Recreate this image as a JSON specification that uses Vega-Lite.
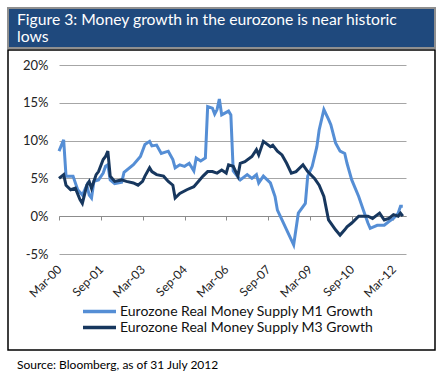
{
"$schema": "https://vega.github.io/schema/vega-lite/v6.json",
"padding": {"left": 7, "top": 7, "right": 8, "bottom": 0},
"background": "white",
"config": {"concat": {"spacing": 0}, "font": "Lato"},
"datasets": {"money": [
{"d":"2000-03-01","s":"Eurozone Real Money Supply M1 Growth","v":8.6},
{"d":"2000-05-01","s":"Eurozone Real Money Supply M1 Growth","v":10.1},
{"d":"2000-06-01","s":"Eurozone Real Money Supply M1 Growth","v":5.3},
{"d":"2000-09-01","s":"Eurozone Real Money Supply M1 Growth","v":5.3},
{"d":"2000-11-01","s":"Eurozone Real Money Supply M1 Growth","v":3.5},
{"d":"2001-01-01","s":"Eurozone Real Money Supply M1 Growth","v":2.8},
{"d":"2001-03-01","s":"Eurozone Real Money Supply M1 Growth","v":4.1},
{"d":"2001-04-01","s":"Eurozone Real Money Supply M1 Growth","v":2.8},
{"d":"2001-05-01","s":"Eurozone Real Money Supply M1 Growth","v":2.4},
{"d":"2001-06-01","s":"Eurozone Real Money Supply M1 Growth","v":4.6},
{"d":"2001-08-01","s":"Eurozone Real Money Supply M1 Growth","v":4.8},
{"d":"2001-10-01","s":"Eurozone Real Money Supply M1 Growth","v":5.7},
{"d":"2001-11-01","s":"Eurozone Real Money Supply M1 Growth","v":6.6},
{"d":"2001-12-01","s":"Eurozone Real Money Supply M1 Growth","v":6.8},
{"d":"2002-01-01","s":"Eurozone Real Money Supply M1 Growth","v":4.8},
{"d":"2002-03-01","s":"Eurozone Real Money Supply M1 Growth","v":4.3},
{"d":"2002-06-01","s":"Eurozone Real Money Supply M1 Growth","v":4.5},
{"d":"2002-07-01","s":"Eurozone Real Money Supply M1 Growth","v":5.8},
{"d":"2002-11-01","s":"Eurozone Real Money Supply M1 Growth","v":6.8},
{"d":"2003-02-01","s":"Eurozone Real Money Supply M1 Growth","v":7.9},
{"d":"2003-04-01","s":"Eurozone Real Money Supply M1 Growth","v":9.5},
{"d":"2003-06-01","s":"Eurozone Real Money Supply M1 Growth","v":9.9},
{"d":"2003-07-01","s":"Eurozone Real Money Supply M1 Growth","v":9.3},
{"d":"2003-09-01","s":"Eurozone Real Money Supply M1 Growth","v":9.4},
{"d":"2003-11-01","s":"Eurozone Real Money Supply M1 Growth","v":8.3},
{"d":"2004-02-01","s":"Eurozone Real Money Supply M1 Growth","v":8.6},
{"d":"2004-04-01","s":"Eurozone Real Money Supply M1 Growth","v":7.5},
{"d":"2004-05-01","s":"Eurozone Real Money Supply M1 Growth","v":6.4},
{"d":"2004-07-01","s":"Eurozone Real Money Supply M1 Growth","v":6.8},
{"d":"2004-09-01","s":"Eurozone Real Money Supply M1 Growth","v":6.6},
{"d":"2004-11-01","s":"Eurozone Real Money Supply M1 Growth","v":7.0},
{"d":"2005-01-01","s":"Eurozone Real Money Supply M1 Growth","v":6.0},
{"d":"2005-02-01","s":"Eurozone Real Money Supply M1 Growth","v":7.7},
{"d":"2005-04-01","s":"Eurozone Real Money Supply M1 Growth","v":7.3},
{"d":"2005-06-01","s":"Eurozone Real Money Supply M1 Growth","v":7.7},
{"d":"2005-07-01","s":"Eurozone Real Money Supply M1 Growth","v":14.5},
{"d":"2005-09-01","s":"Eurozone Real Money Supply M1 Growth","v":14.3},
{"d":"2005-10-01","s":"Eurozone Real Money Supply M1 Growth","v":13.5},
{"d":"2005-11-01","s":"Eurozone Real Money Supply M1 Growth","v":14.1},
{"d":"2005-12-01","s":"Eurozone Real Money Supply M1 Growth","v":15.5},
{"d":"2006-01-01","s":"Eurozone Real Money Supply M1 Growth","v":13.4},
{"d":"2006-04-01","s":"Eurozone Real Money Supply M1 Growth","v":13.9},
{"d":"2006-05-01","s":"Eurozone Real Money Supply M1 Growth","v":13.4},
{"d":"2006-06-01","s":"Eurozone Real Money Supply M1 Growth","v":6.0},
{"d":"2006-09-01","s":"Eurozone Real Money Supply M1 Growth","v":4.8},
{"d":"2006-12-01","s":"Eurozone Real Money Supply M1 Growth","v":5.5},
{"d":"2007-02-01","s":"Eurozone Real Money Supply M1 Growth","v":5.0},
{"d":"2007-04-01","s":"Eurozone Real Money Supply M1 Growth","v":5.5},
{"d":"2007-05-01","s":"Eurozone Real Money Supply M1 Growth","v":4.4},
{"d":"2007-07-01","s":"Eurozone Real Money Supply M1 Growth","v":5.3},
{"d":"2007-10-01","s":"Eurozone Real Money Supply M1 Growth","v":4.4},
{"d":"2007-12-01","s":"Eurozone Real Money Supply M1 Growth","v":2.6},
{"d":"2008-01-01","s":"Eurozone Real Money Supply M1 Growth","v":0.8},
{"d":"2008-03-01","s":"Eurozone Real Money Supply M1 Growth","v":-0.5},
{"d":"2008-05-01","s":"Eurozone Real Money Supply M1 Growth","v":-1.8},
{"d":"2008-08-01","s":"Eurozone Real Money Supply M1 Growth","v":-3.8},
{"d":"2008-10-01","s":"Eurozone Real Money Supply M1 Growth","v":0.4},
{"d":"2009-01-01","s":"Eurozone Real Money Supply M1 Growth","v":1.7},
{"d":"2009-02-01","s":"Eurozone Real Money Supply M1 Growth","v":5.3},
{"d":"2009-04-01","s":"Eurozone Real Money Supply M1 Growth","v":6.6},
{"d":"2009-06-01","s":"Eurozone Real Money Supply M1 Growth","v":9.2},
{"d":"2009-07-01","s":"Eurozone Real Money Supply M1 Growth","v":11.4},
{"d":"2009-09-01","s":"Eurozone Real Money Supply M1 Growth","v":14.1},
{"d":"2009-11-01","s":"Eurozone Real Money Supply M1 Growth","v":12.8},
{"d":"2009-12-01","s":"Eurozone Real Money Supply M1 Growth","v":12.1},
{"d":"2010-02-01","s":"Eurozone Real Money Supply M1 Growth","v":9.7},
{"d":"2010-04-01","s":"Eurozone Real Money Supply M1 Growth","v":8.6},
{"d":"2010-06-01","s":"Eurozone Real Money Supply M1 Growth","v":8.3},
{"d":"2010-07-01","s":"Eurozone Real Money Supply M1 Growth","v":7.0},
{"d":"2010-09-01","s":"Eurozone Real Money Supply M1 Growth","v":4.8},
{"d":"2010-12-01","s":"Eurozone Real Money Supply M1 Growth","v":2.6},
{"d":"2011-02-01","s":"Eurozone Real Money Supply M1 Growth","v":0.8},
{"d":"2011-04-01","s":"Eurozone Real Money Supply M1 Growth","v":-0.9},
{"d":"2011-05-01","s":"Eurozone Real Money Supply M1 Growth","v":-1.6},
{"d":"2011-08-01","s":"Eurozone Real Money Supply M1 Growth","v":-1.2},
{"d":"2011-11-01","s":"Eurozone Real Money Supply M1 Growth","v":-1.2},
{"d":"2012-01-01","s":"Eurozone Real Money Supply M1 Growth","v":-0.7},
{"d":"2012-03-01","s":"Eurozone Real Money Supply M1 Growth","v":-0.3},
{"d":"2012-05-01","s":"Eurozone Real Money Supply M1 Growth","v":0.4},
{"d":"2012-06-01","s":"Eurozone Real Money Supply M1 Growth","v":1.3},
{"d":"2012-07-01","s":"Eurozone Real Money Supply M1 Growth","v":1.3},
{"d":"2000-03-01","s":"Eurozone Real Money Supply M3 Growth","v":5.0},
{"d":"2000-05-01","s":"Eurozone Real Money Supply M3 Growth","v":5.5},
{"d":"2000-06-01","s":"Eurozone Real Money Supply M3 Growth","v":4.1},
{"d":"2000-08-01","s":"Eurozone Real Money Supply M3 Growth","v":3.5},
{"d":"2000-10-01","s":"Eurozone Real Money Supply M3 Growth","v":3.7},
{"d":"2000-12-01","s":"Eurozone Real Money Supply M3 Growth","v":2.2},
{"d":"2001-01-01","s":"Eurozone Real Money Supply M3 Growth","v":1.7},
{"d":"2001-03-01","s":"Eurozone Real Money Supply M3 Growth","v":4.1},
{"d":"2001-04-01","s":"Eurozone Real Money Supply M3 Growth","v":4.6},
{"d":"2001-05-01","s":"Eurozone Real Money Supply M3 Growth","v":3.7},
{"d":"2001-07-01","s":"Eurozone Real Money Supply M3 Growth","v":5.5},
{"d":"2001-08-01","s":"Eurozone Real Money Supply M3 Growth","v":5.9},
{"d":"2001-10-01","s":"Eurozone Real Money Supply M3 Growth","v":7.5},
{"d":"2001-11-01","s":"Eurozone Real Money Supply M3 Growth","v":7.9},
{"d":"2001-12-01","s":"Eurozone Real Money Supply M3 Growth","v":8.6},
{"d":"2002-01-01","s":"Eurozone Real Money Supply M3 Growth","v":5.3},
{"d":"2002-03-01","s":"Eurozone Real Money Supply M3 Growth","v":4.6},
{"d":"2002-06-01","s":"Eurozone Real Money Supply M3 Growth","v":4.8},
{"d":"2002-08-01","s":"Eurozone Real Money Supply M3 Growth","v":4.6},
{"d":"2002-11-01","s":"Eurozone Real Money Supply M3 Growth","v":4.4},
{"d":"2003-01-01","s":"Eurozone Real Money Supply M3 Growth","v":4.1},
{"d":"2003-03-01","s":"Eurozone Real Money Supply M3 Growth","v":4.6},
{"d":"2003-04-01","s":"Eurozone Real Money Supply M3 Growth","v":5.3},
{"d":"2003-06-01","s":"Eurozone Real Money Supply M3 Growth","v":6.4},
{"d":"2003-07-01","s":"Eurozone Real Money Supply M3 Growth","v":5.9},
{"d":"2003-09-01","s":"Eurozone Real Money Supply M3 Growth","v":5.5},
{"d":"2003-12-01","s":"Eurozone Real Money Supply M3 Growth","v":5.3},
{"d":"2004-02-01","s":"Eurozone Real Money Supply M3 Growth","v":4.6},
{"d":"2004-04-01","s":"Eurozone Real Money Supply M3 Growth","v":4.1},
{"d":"2004-05-01","s":"Eurozone Real Money Supply M3 Growth","v":2.4},
{"d":"2004-07-01","s":"Eurozone Real Money Supply M3 Growth","v":3.0},
{"d":"2004-10-01","s":"Eurozone Real Money Supply M3 Growth","v":3.5},
{"d":"2005-01-01","s":"Eurozone Real Money Supply M3 Growth","v":3.9},
{"d":"2005-03-01","s":"Eurozone Real Money Supply M3 Growth","v":4.6},
{"d":"2005-05-01","s":"Eurozone Real Money Supply M3 Growth","v":5.3},
{"d":"2005-07-01","s":"Eurozone Real Money Supply M3 Growth","v":5.9},
{"d":"2005-09-01","s":"Eurozone Real Money Supply M3 Growth","v":5.9},
{"d":"2005-11-01","s":"Eurozone Real Money Supply M3 Growth","v":5.7},
{"d":"2006-01-01","s":"Eurozone Real Money Supply M3 Growth","v":6.1},
{"d":"2006-03-01","s":"Eurozone Real Money Supply M3 Growth","v":5.7},
{"d":"2006-04-01","s":"Eurozone Real Money Supply M3 Growth","v":6.8},
{"d":"2006-06-01","s":"Eurozone Real Money Supply M3 Growth","v":6.6},
{"d":"2006-08-01","s":"Eurozone Real Money Supply M3 Growth","v":5.3},
{"d":"2006-09-01","s":"Eurozone Real Money Supply M3 Growth","v":7.0},
{"d":"2006-11-01","s":"Eurozone Real Money Supply M3 Growth","v":7.2},
{"d":"2007-02-01","s":"Eurozone Real Money Supply M3 Growth","v":7.9},
{"d":"2007-04-01","s":"Eurozone Real Money Supply M3 Growth","v":8.8},
{"d":"2007-05-01","s":"Eurozone Real Money Supply M3 Growth","v":8.1},
{"d":"2007-07-01","s":"Eurozone Real Money Supply M3 Growth","v":9.9},
{"d":"2007-10-01","s":"Eurozone Real Money Supply M3 Growth","v":9.2},
{"d":"2007-11-01","s":"Eurozone Real Money Supply M3 Growth","v":9.4},
{"d":"2008-01-01","s":"Eurozone Real Money Supply M3 Growth","v":8.6},
{"d":"2008-03-01","s":"Eurozone Real Money Supply M3 Growth","v":8.1},
{"d":"2008-05-01","s":"Eurozone Real Money Supply M3 Growth","v":7.0},
{"d":"2008-07-01","s":"Eurozone Real Money Supply M3 Growth","v":5.7},
{"d":"2008-09-01","s":"Eurozone Real Money Supply M3 Growth","v":5.9},
{"d":"2008-12-01","s":"Eurozone Real Money Supply M3 Growth","v":6.8},
{"d":"2009-02-01","s":"Eurozone Real Money Supply M3 Growth","v":5.9},
{"d":"2009-05-01","s":"Eurozone Real Money Supply M3 Growth","v":5.0},
{"d":"2009-07-01","s":"Eurozone Real Money Supply M3 Growth","v":4.1},
{"d":"2009-09-01","s":"Eurozone Real Money Supply M3 Growth","v":2.6},
{"d":"2009-11-01","s":"Eurozone Real Money Supply M3 Growth","v":-0.5},
{"d":"2010-02-01","s":"Eurozone Real Money Supply M3 Growth","v":-1.8},
{"d":"2010-04-01","s":"Eurozone Real Money Supply M3 Growth","v":-2.5},
{"d":"2010-06-01","s":"Eurozone Real Money Supply M3 Growth","v":-1.8},
{"d":"2010-07-01","s":"Eurozone Real Money Supply M3 Growth","v":-1.4},
{"d":"2010-09-01","s":"Eurozone Real Money Supply M3 Growth","v":-0.9},
{"d":"2010-12-01","s":"Eurozone Real Money Supply M3 Growth","v":0.0},
{"d":"2011-02-01","s":"Eurozone Real Money Supply M3 Growth","v":0.0},
{"d":"2011-04-01","s":"Eurozone Real Money Supply M3 Growth","v":0.0},
{"d":"2011-06-01","s":"Eurozone Real Money Supply M3 Growth","v":-0.3},
{"d":"2011-09-01","s":"Eurozone Real Money Supply M3 Growth","v":0.4},
{"d":"2011-11-01","s":"Eurozone Real Money Supply M3 Growth","v":-0.5},
{"d":"2012-01-01","s":"Eurozone Real Money Supply M3 Growth","v":-0.3},
{"d":"2012-03-01","s":"Eurozone Real Money Supply M3 Growth","v":0.2},
{"d":"2012-05-01","s":"Eurozone Real Money Supply M3 Growth","v":0.0},
{"d":"2012-06-01","s":"Eurozone Real Money Supply M3 Growth","v":0.4},
{"d":"2012-07-01","s":"Eurozone Real Money Supply M3 Growth","v":0.0}
]},
"vconcat": [
{
"width": 427, "height": 40,
"view": {"fill": "#1f497d", "stroke": "#8f8f8f", "strokeWidth": 2},
"title": {"text": ["Figure 3: Money growth in the eurozone is near historic", "lows"], "orient": "top", "anchor": "start", "frame": "group", "offset": -38, "baseline": "top", "dx": 9, "color": "white", "fontSize": 15.7, "fontWeight": "normal", "lineHeight": 17, "font": "Lato"},
"data": {"values": []},
"mark": "text",
"encoding": {}
},
{
"width": 427, "height": 300,
"view": {"stroke": "black", "strokeWidth": 1.5, "fill": "white"},
"title": {"text": "Source: Bloomberg, as of 31 July 2012", "orient": "bottom", "anchor": "start", "frame": "group", "offset": 10, "dx": 9, "fontSize": 12, "fontWeight": "normal", "color": "black", "baseline": "top", "font": "Lato"},
"data": {"name": "money"},
"mark": {"type": "line", "strokeWidth": 3},
"encoding": {
"x": {"field": "d", "type": "temporal",
 "scale": {"type": "utc", "domain": [{"year": 2000, "month": 3, "date": 1, "utc": true}, {"year": 2012, "month": 8, "date": 12, "utc": true}], "range": [51, 398]},
 "axis": {"orient": "bottom", "offset": -134, "title": null, "grid": false,
  "values": [{"year": 2000, "month": 3, "date": 1, "utc": true}, {"year": 2001, "month": 9, "date": 1, "utc": true}, {"year": 2003, "month": 3, "date": 1, "utc": true}, {"year": 2004, "month": 9, "date": 1, "utc": true}, {"year": 2006, "month": 3, "date": 1, "utc": true}, {"year": 2007, "month": 9, "date": 1, "utc": true}, {"year": 2009, "month": 3, "date": 1, "utc": true}, {"year": 2010, "month": 9, "date": 1, "utc": true}, {"year": 2012, "month": 3, "date": 1, "utc": true}],
  "format": "%b-%y", "labelAngle": -45, "labelAlign": "right", "labelBaseline": "middle", "labelPadding": 47, "tickSize": 4, "tickColor": "#8c8c8c", "domainColor": "#8c8c8c", "labelFontSize": 12, "labelColor": "#222222", "labelFont": "Lato"}},
"y": {"field": "v", "type": "quantitative",
 "scale": {"domain": [-5, 20], "range": [204, 15], "nice": false, "zero": false},
 "axis": {"orient": "left", "offset": -51, "title": null, "values": [-5, 0, 5, 10, 15, 20], "labelExpr": "datum.value + '%'", "domain": false, "ticks": false, "grid": true, "gridColor": "#a6a6a6", "gridWidth": 1, "labelPadding": 11, "labelFontSize": 13, "labelColor": "#222222", "labelFont": "Lato"}},
"color": {"field": "s", "type": "nominal",
 "scale": {"domain": ["Eurozone Real Money Supply M1 Growth", "Eurozone Real Money Supply M3 Growth"], "range": ["#558ed5", "#17375e"]},
 "legend": {"orient": "none", "legendX": 84, "legendY": 296, "title": null, "symbolType": "M-3,0H3", "symbolSize": 121, "symbolStrokeWidth": 3.5, "labelFontSize": 14, "labelOffset": 13, "labelLimit": 0, "labelColor": "#111111", "labelFont": "Lato", "rowPadding": 1}}
}
}
]
}
